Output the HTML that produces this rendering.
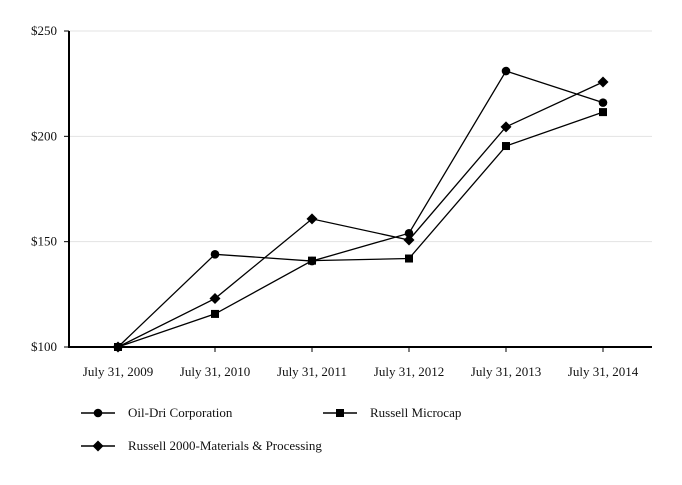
<!DOCTYPE html>
<html><head><meta charset="utf-8"><style>
body{margin:0;background:#fff}
svg text{font-family:"Liberation Serif",serif;font-size:13px;fill:#111}
</style></head><body>
<svg id="c" width="682" height="480" xmlns="http://www.w3.org/2000/svg"></svg>
<script>
const categories=["July 31, 2009","July 31, 2010","July 31, 2011","July 31, 2012","July 31, 2013","July 31, 2014"];
const oilDri=[100,144,140.8,154,231,216];
const microcap=[100,115.7,141,142,195.4,211.5];
const materials=[100,123,160.8,150.8,204.5,225.8];
const yTicks=[100,150,200,250];
const yTickLabels=["$100","$150","$200","$250"];
const NS="http://www.w3.org/2000/svg";
const svg=document.getElementById('c');
function el(t,a,p){const e=document.createElementNS(NS,t);for(const k in a)e.setAttribute(k,a[k]);(p||svg).appendChild(e);return e;}
const x0=69,x1=652,yTop=31,yBot=347;
function X(i){return 118+i*97;}
function Y(v){return yBot-(v-100)/150*(yBot-yTop);}
yTicks.forEach((v,i)=>{
  if(v>100){const g=el('line',{x1:x0,x2:x1,y1:Y(v),y2:Y(v),stroke:'#e3e3e3','stroke-width':1});
  
  }
  const t=el('text',{x:57,y:Y(v)+4,'text-anchor':'end'});t.textContent=yTickLabels[i];
  
  
  el('line',{x1:64,x2:x0,y1:Y(v),y2:Y(v),stroke:'#000'});
});
const ya=el('line',{x1:x0,x2:x0,y1:yTop,y2:yBot+1,stroke:'#000','stroke-width':2});


const xa=el('line',{x1:x0-1,x2:x1,y1:yBot,y2:yBot,stroke:'#000','stroke-width':2});


categories.forEach((c,i)=>{
  el('line',{x1:X(i),x2:X(i),y1:yBot,y2:yBot+5,stroke:'#000'});
  const t=el('text',{x:X(i),y:yBot+29,'text-anchor':'middle'});t.textContent=c;
  
  
});
function marker(type,x,y,g){
  if(type==='circle')return el('circle',{cx:x,cy:y,r:4.3,fill:'#000'},g);
  if(type==='square')return el('rect',{x:x-4,y:y-4,width:8,height:8,fill:'#000'},g);
  return el('polygon',{points:`${x},${y-5.5} ${x+5.5},${y} ${x},${y+5.5} ${x-5.5},${y}`,fill:'#000'},g);
}
const series=[["oil-dri",oilDri,"circle"],["russell-microcap",microcap,"square"],["russell-2000-materials",materials,"diamond"]];
series.forEach(([n,d,m])=>{
  const g=el('g',{});
  
  
  el('polyline',{points:d.map((v,i)=>X(i)+','+Y(v)).join(' '),fill:'none',stroke:'#000','stroke-width':1.3},g);
  d.forEach((v,i)=>{const p=marker(m,X(i),Y(v),g);
    
    });
});
const legend=[["Oil-Dri Corporation","circle",81,413],["Russell Microcap","square",323,413],["Russell 2000-Materials & Processing","diamond",81,446]];
legend.forEach(([lab,m,x,y])=>{
  const g=el('g',{});
  
  
  el('line',{x1:x,x2:x+34,y1:y,y2:y,stroke:'#000','stroke-width':1.5},g);
  marker(m,x+17,y,g);
  const t=el('text',{x:x+47,y:y+4},g);t.textContent=lab;
});
</script>
</body></html>
